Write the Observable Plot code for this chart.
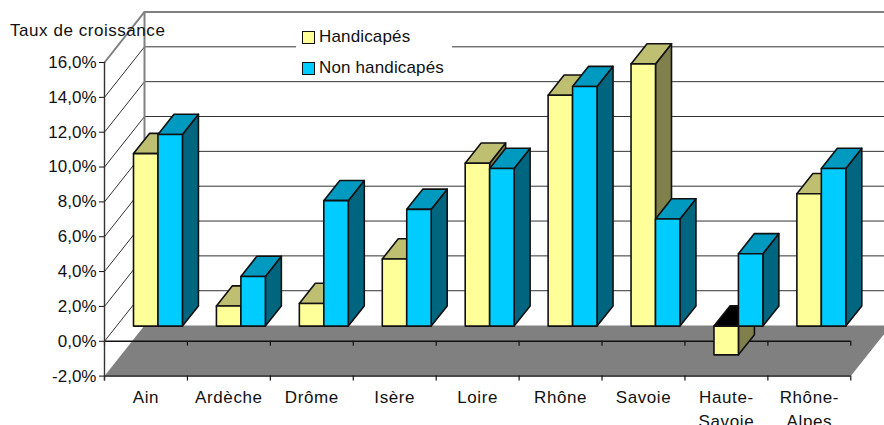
<!DOCTYPE html>
<html lang="fr">
<head>
<meta charset="utf-8">
<script src="https://cdn.jsdelivr.net/npm/d3@7"></script>
<script src="https://cdn.jsdelivr.net/npm/@observablehq/plot@0.6"></script>
<style>
html,body{margin:0;padding:0;background:#fff;overflow:hidden}
#wrap{position:relative;width:884px;height:425px;font-family:"Liberation Sans",Arial,sans-serif;font-size:17px;color:#111}
#wrap svg{position:absolute;left:0;top:0}
g[aria-label="x-axis tick label"]{letter-spacing:.6px}
#title{position:absolute;left:10px;top:21px;line-height:20px;letter-spacing:.55px;white-space:nowrap}
#legend{position:absolute;left:296px;top:21px;width:156px;height:59px;background:#fff}
.row{position:absolute;left:6px;height:20px;line-height:20px;white-space:nowrap}
.sw{position:absolute;left:0;top:4px;width:11px;height:11px;border:1.5px solid #111}
.lb{position:absolute;left:17px;top:0;letter-spacing:.15px}
</style>
</head>
<body>
<div id="wrap"></div>
<script>
const categories = ["Ain","Ardèche","Drôme","Isère","Loire","Rhône","Savoie","Haute-\nSavoie","Rhône-\nAlpes"];
const handicapes = [9.9,1.15,1.3,3.85,9.35,13.25,15.05,-1.65,7.6];
const nonHandicapes = [11.0,2.85,7.2,6.7,9.05,13.75,6.15,4.15,9.05];
const yTicks = [-2,0,2,4,6,8,10,12,14,16];
const xBounds = [0,1,2,3,4,5,6,7,8,9];
const seriesNames = ["Handicapés","Non handicapés"];
const faceColors = [
  {front:"#FFFF99",top:"#BFBF72",side:"#80804D"},
  {front:"#00CCFF",top:"#0099BF",side:"#006680"}
];

// oblique projection: depth 0 = front of chart, depth 1 = back wall (in x-category and y-value units)
const depthX = 0.4825, depthY = 2.9;
const P = (c,v,d) => ({x:c+d*depthX, y:v+d*depthY});
const poly = (pts,opts) => Plot.line(pts,{x:"x",y:"y",curve:"linear-closed",...opts});

const gap = 0.205, barW = 0.295, dFront = 0.3, dBack = 0.7;
const barStroke = {stroke:"#111",strokeWidth:1.6,strokeLinejoin:"round"};

function bar(i,s,v){
  const c0 = i+gap+s*barW, c1 = c0+barW, col = faceColors[s];
  const hi = Math.max(v,0), lo = Math.min(v,0);
  return [
    poly([P(c1,lo,dFront),P(c1,lo,dBack),P(c1,hi,dBack),P(c1,hi,dFront)],{fill:col.side,...barStroke}),
    poly([P(c0,hi,dFront),P(c1,hi,dFront),P(c1,hi,dBack),P(c0,hi,dBack)],{fill:v<0?"#000":col.top,...barStroke}),
    poly([P(c0,lo,dFront),P(c1,lo,dFront),P(c1,hi,dFront),P(c0,hi,dFront)],{fill:col.front,...barStroke})
  ];
}

const gridTicks = yTicks.filter(t=>t>-2&&t<16);
const seg = (a,b,opts) => Plot.line([a,b],{x:"x",y:"y",...opts});
const dark = {stroke:"#333",strokeWidth:1};
const grey = {stroke:"#808080",strokeWidth:2};

const marks = [
  // floor
  poly([P(0,-2,0),P(9,-2,0),P(9,-2,1),P(0,-2,1)],{fill:"#808080",stroke:"none"}),
  // back wall and side wall
  ...gridTicks.map(t=>seg(P(0,t,0),P(0,t,1),dark)),
  ...gridTicks.map(t=>seg(P(0,t,1),P(9,t,1),dark)),
  seg(P(0,16,0),P(0,16,1),grey),
  seg(P(0,16,1),P(9,16,1),grey),
  seg(P(0,-2,1),P(0,16,1),grey),
  // front axis lines and ticks
  Plot.ruleY([0,-2],{x1:0,x2:9,stroke:"#111",strokeWidth:1.4}),
  Plot.ruleX(xBounds,{y1:0,y2:-0.28,stroke:"#111",strokeWidth:1.2}),
  Plot.ruleX(xBounds,{y1:-2,y2:-2.28,stroke:"#111",strokeWidth:1.2}),
  Plot.ruleX([0],{y1:-2.28,y2:16,stroke:"#333",strokeWidth:1.4}),
  // bars, back to front
  ...categories.flatMap((_,i)=>[...bar(i,0,handicapes[i]),...bar(i,1,nonHandicapes[i])]),
  // axes
  Plot.axisY({anchor:"left",ticks:yTicks,tickSize:5,tickPadding:3,stroke:"#111",label:null,
    tickFormat:d=>d.toFixed(1).replace(".",",")+"%",fontSize:17,fill:"#111"}),
  Plot.axisX({anchor:"bottom",ticks:categories.map((_,i)=>i+0.5),tickSize:0,tickPadding:10,label:null,
    tickFormat:d=>categories[d-0.5],fontSize:17,lineHeight:1.4,fill:"#111"})
];

const chart = Plot.plot({
  width:884,height:425,
  marginLeft:104,marginRight:33.7,marginTop:62,marginBottom:49.4,
  style:{fontFamily:'"Liberation Sans",Arial,sans-serif',background:"#fff"},
  x:{type:"linear",domain:[0,9],axis:null},
  y:{type:"linear",domain:[-2,16],axis:null},
  marks
});

const wrap = document.getElementById("wrap");
wrap.appendChild(chart);

const title = document.createElement("div");
title.id = "title"; title.textContent = "Taux de croissance";
wrap.appendChild(title);

const legend = document.createElement("div");
legend.id = "legend";
seriesNames.forEach((name,i)=>{
  const row = document.createElement("div");
  row.className = "row"; row.style.top = (6+i*31)+"px";
  const sw = document.createElement("span");
  sw.className = "sw"; sw.style.background = faceColors[i].front;
  const lb = document.createElement("span");
  lb.className = "lb"; lb.textContent = name;
  row.append(sw,lb); legend.appendChild(row);
});
wrap.appendChild(legend);
</script>
</body>
</html>
